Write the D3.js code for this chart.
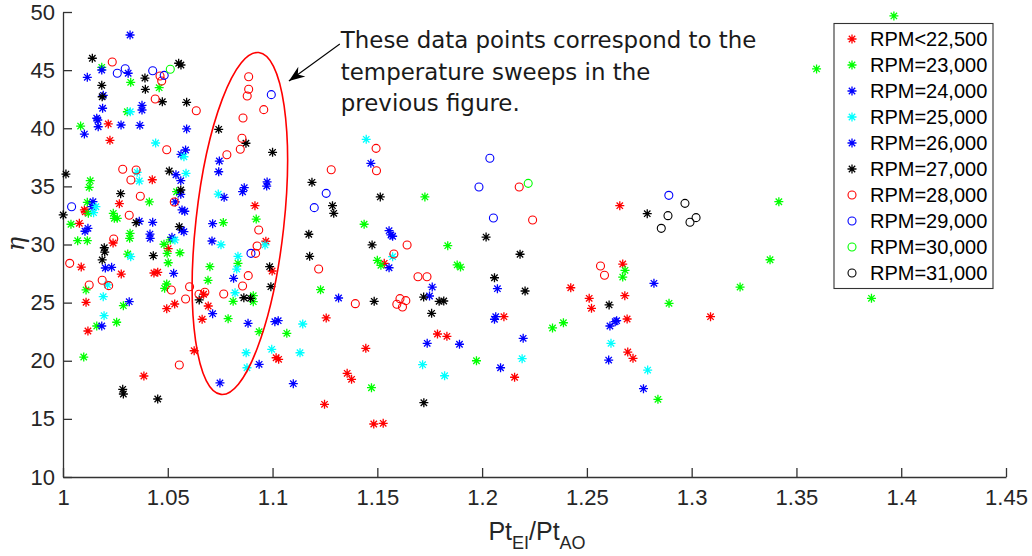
<!DOCTYPE html>
<html><head><meta charset="utf-8">
<script src="https://cdn.jsdelivr.net/npm/d3@7"></script>
<style>
body{margin:0;background:#fff;}
svg{display:block;}
</style></head>
<body><svg id="c" width="1032" height="556"></svg>
<script>
// ---------- data (x = PtEI/PtAO, y = eta) ----------
const rpmBelow22500 = [[1.0216,40.37],[1.0224,38.96],[1.0426,35.57],[1.0269,33.51],[1.0102,32.97],[1.0106,32.82],[1.0078,31.82],[1.0239,30.13],[1.0502,29.64],[1.0087,28.06],[1.0278,27.46],[1.0434,27.55],[1.0452,27.61],[1.011,25.03],[1.0533,24.88],[1.0495,24.48],[1.0119,22.56],[1.0386,18.69],[1.0916,33.34],[1.0968,30.28],[1.0998,27.72],[1.0671,25.72],[1.0693,24.71],[1.0664,23.57],[1.0626,20.86],[1.1017,20.26],[1.1029,20.12],[1.1533,28.38],[1.1256,23.68],[1.1445,21.07],[1.1356,18.92],[1.1377,18.40],[1.1248,16.25],[1.1483,14.56],[1.1528,14.62],[1.1787,22.30],[1.1832,22.10],[1.2104,23.79],[1.2155,18.58],[1.2657,33.34],[1.2671,28.32],[1.2423,26.28],[1.2511,25.37],[1.2522,24.51],[1.2681,25.60],[1.2692,23.59],[1.2695,20.75],[1.2720,20.21],[1.3090,23.79]];
const rpm23000 = [[1.0185,45.24],[1.0323,43.95],[1.0459,43.49],[1.0307,41.42],[1.0084,40.19],[1.013,35.49],[1.0125,34.92],[1.0542,34.54],[1.0412,33.66],[1.0116,33.63],[1.0121,32.68],[1.024,32.68],[1.0245,32.25],[1.0259,32.25],[1.0038,31.74],[1.032,30.96],[1.0318,30.53],[1.007,30.33],[1.0116,30.33],[1.0512,30.39],[1.0482,30.02],[1.0309,29.18],[1.0497,29.24],[1.0558,29.29],[1.0502,28.43],[1.011,26.09],[1.0495,26.60],[1.0485,26.23],[1.0288,24.74],[1.0161,22.99],[1.0256,23.31],[1.0099,20.32],[1.0765,31.89],[1.0922,32.19],[1.0701,28.09],[1.0835,28.38],[1.0692,26.92],[1.0908,25.60],[1.0908,25.08],[1.0812,25.11],[1.0788,23.62],[1.0936,22.50],[1.1068,22.36],[1.1727,34.09],[1.1437,31.74],[1.1836,29.90],[1.15,28.64],[1.1517,28.21],[1.1881,28.24],[1.1897,28.06],[1.1229,26.11],[1.1973,20.00],[1.1472,17.68],[1.2336,22.82],[1.2388,23.27],[1.2682,27.78],[1.2671,27.20],[1.2892,24.94],[1.2839,16.68],[1.3231,26.34],[1.3374,28.69],[1.3416,33.68],[1.3596,45.10],[1.3965,49.66],[1.3858,25.37]];
const rpm24000 = [[1.032,48.02],[1.0185,45.01],[1.0311,44.73],[1.0116,44.38],[1.0192,42.83],[1.0377,41.97],[1.0377,41.57],[1.0189,41.72],[1.0161,40.86],[1.0166,40.71],[1.0168,40.13],[1.0277,40.28],[1.0367,40.25],[1.0102,39.50],[1.059,39.94],[1.0585,38.13],[1.0563,37.76],[1.0539,36.0],[1.0562,35.49],[1.0562,34.32],[1.0536,33.66],[1.0143,33.68],[1.0138,33.25],[1.0568,32.97],[1.0581,32.86],[1.0428,31.91],[1.0364,32.0],[1.0119,31.39],[1.0105,31.14],[1.0566,31.25],[1.0577,31.10],[1.0415,30.90],[1.0416,30.53],[1.052,30.62],[1.0202,27.98],[1.0232,28.04],[1.0528,27.52],[1.0316,25.08],[1.0185,22.99]];
const rpm25000 = [[1.0321,41.42],[1.0442,38.73],[1.0577,37.55],[1.0354,36.21],[1.0364,35.46],[1.0587,36.12],[1.0157,33.25],[1.0146,32.74],[1.0534,30.39],[1.0323,28.95],[1.0213,26.52],[1.0192,25.51],[1.0196,23.88],[1.0741,34.34],[1.0754,29.98],[1.0964,29.96],[1.0835,28.98],[1.0829,27.89],[1.0821,25.85],[1.1144,23.16],[1.0874,20.69],[1.0996,20.98],[1.1131,20.69],[1.0878,19.40],[1.1447,39.05],[1.1573,28.95],[1.1716,19.66],[1.1821,18.71],[1.2191,20.18],[1.2615,21.50],[1.279,19.20]];
const rpm26000 = [[1.0746,37.18],[1.0743,36.26],[1.0865,34.89],[1.0857,34.54],[1.0974,35.38],[1.0972,35.03],[1.0769,34.06],[1.0714,31.79],[1.0711,30.30],[1.0814,27.09],[1.0714,24.05],[1.0883,23.22],[1.1011,23.36],[1.1027,23.45],[1.0936,19.69],[1.0749,18.09],[1.1099,18.03],[1.1469,36.98],[1.1556,31.19],[1.1565,30.82],[1.1573,30.71],[1.1556,28.0],[1.1762,26.34],[1.1749,25.57],[1.2073,26.20],[1.1315,25.40],[1.2065,23.79],[1.2059,23.57],[1.1738,21.50],[1.1892,21.42],[1.2196,21.93],[1.2088,19.40],[1.282,26.66],[1.2642,23.45],[1.2635,23.36],[1.261,22.99],[1.2604,20.06],[1.277,17.60]];
const rpm27000 = [[1.014,46.02],[1.0552,45.59],[1.0563,45.44],[1.0391,44.32],[1.0185,43.69],[1.0393,43.35],[1.0187,42.71],[1.0474,42.28],[1.059,42.23],[1.0014,36.06],[1.0507,36.32],[1.0275,34.37],[1.0562,34.69],[1.0001,32.54],[1.0349,31.88],[1.0555,31.53],[1.0197,29.72],[1.0199,29.35],[1.0187,28.67],[1.0431,29.04],[1.0285,17.54],[1.0288,17.14],[1.0452,16.71],[1.0743,39.91],[1.0873,38.71],[1.1,37.93],[1.0986,28.09],[1.0992,26.37],[1.0863,25.42],[1.0895,25.37],[1.065,25.23],[1.1188,35.35],[1.1514,34.09],[1.1286,33.34],[1.1292,32.68],[1.1173,30.88],[1.1475,29.96],[1.2019,30.64],[1.1177,28.98],[1.2181,29.16],[1.2059,27.14],[1.2205,26.0],[1.1485,25.11],[1.1721,25.48],[1.1795,25.11],[1.1817,25.14],[1.1759,24.08],[1.1722,16.39],[1.2788,32.65],[1.2606,24.80]];
const rpm28000 = [[1.0235,45.70],[1.0463,44.49],[1.0471,44.06],[1.044,42.52],[1.0495,38.15],[1.0285,36.47],[1.0349,36.41],[1.0324,35.55],[1.0369,34.15],[1.0531,33.66],[1.0316,32.51],[1.0242,30.47],[1.0032,28.38],[1.0187,26.92],[1.0218,26.46],[1.0125,26.52],[1.0517,26.09],[1.0604,26.37],[1.0585,25.31],[1.0555,19.63],[1.0886,44.43],[1.0886,43.35],[1.0879,42.77],[1.0636,41.51],[1.0958,41.60],[1.0859,40.88],[1.0854,39.14],[1.0846,38.19],[1.0782,37.72],[1.0934,31.25],[1.0926,29.87],[1.0919,29.24],[1.0884,27.32],[1.0857,26.43],[1.0649,25.72],[1.0677,25.89],[1.0767,25.74],[1.1494,38.27],[1.1496,36.35],[1.128,36.43],[1.2177,34.95],[1.2241,32.11],[1.1642,29.96],[1.1579,29.18],[1.122,27.89],[1.1694,27.23],[1.1737,27.23],[1.1395,24.91],[1.1608,25.34],[1.1636,25.17],[1.1593,24.86],[1.162,24.62],[1.2565,28.15],[1.2584,27.35]];
const rpm29000 = [[1.0297,45.12],[1.0259,44.73],[1.0428,44.95],[1.0483,44.55],[1.0041,33.25],[1.0994,42.89],[1.0897,29.24],[1.2037,37.42],[1.1985,34.95],[1.1256,34.40],[1.1199,33.17],[1.2054,32.28],[1.2891,34.23]];
const rpm30000 = [[1.0512,45.07],[1.222,35.26]];
const rpm31000 = [[1.2968,33.54],[1.2887,32.48],[1.2855,31.39],[1.2992,31.91],[1.3021,32.31]];

const seriesNames = ["RPM<22,500","RPM=23,000","RPM=24,000","RPM=25,000","RPM=26,000","RPM=27,000","RPM=28,000","RPM=29,000","RPM=30,000","RPM=31,000"];
const seriesColors = ["#ff0000","#00ff00","#0000ff","#00ffff","#0000ff","#000000","#ff0000","#0000ff","#00ff00","#000000"];
const seriesMarkers = ["*","*","*","*","*","*","o","o","o","o"];
const seriesData = [rpmBelow22500,rpm23000,rpm24000,rpm25000,rpm26000,rpm27000,rpm28000,rpm29000,rpm30000,rpm31000];

const xTicks = [1,1.05,1.1,1.15,1.2,1.25,1.3,1.35,1.4,1.45];
const yTicks = [10,15,20,25,30,35,40,45,50];

const noteLines = ["These data points correspond to the","temperature sweeps in the","previous figure."];
const noteAnchor = [1.1321,47.25];   // arrow tail / text start (data units)
const noteArrowTip = [1.1078,44.06];
const ellipseCenter = [1.0844,31.81];

// ---------- drawing ----------
const svg = d3.select("#c");
const x = d3.scaleLinear().domain([1,1.45]).range([63,1006]);
const y = d3.scaleLinear().domain([10,50]).range([477,12]);
const axisColor = "#333";
const textColor = "#262626";

const gx = svg.append("g").attr("transform","translate(0,477)")
  .call(d3.axisBottom(x).tickValues(xTicks).tickSizeInner(-9).tickSizeOuter(0).tickPadding(12).tickFormat(d3.format("")));
const gy = svg.append("g").attr("transform","translate(63,0)")
  .call(d3.axisLeft(y).tickValues(yTicks).tickSizeInner(-9).tickSizeOuter(0).tickPadding(8));
[gx,gy].forEach(g=>{
  g.select(".domain").attr("stroke",axisColor).attr("stroke-width",1.3);
  g.selectAll(".tick line").attr("stroke",axisColor).attr("stroke-width",1.3);
  g.selectAll(".tick text").attr("fill",textColor).style("font-family","'Liberation Sans',Arial,sans-serif").style("font-size","22px");
});

// axis labels
const xl = svg.append("text").attr("x",537).attr("y",540).attr("text-anchor","middle")
  .attr("fill",textColor).style("font-family","'Liberation Sans',Arial,sans-serif").style("font-size","25px");
xl.append("tspan").text("Pt");
xl.append("tspan").attr("dy",9).style("font-size","18px").text("EI");
xl.append("tspan").attr("dy",-9).text("/Pt");
xl.append("tspan").attr("dy",9).style("font-size","18px").text("AO");

svg.append("text").attr("transform","translate(24,244) rotate(-90)").attr("text-anchor","middle")
  .attr("fill",textColor).style("font-family","'DejaVu Serif','Liberation Serif',serif").style("font-style","italic").style("font-size","24px").text("η");

function drawMarker(g, type, color){
  if(type==="o"){
    g.append("circle").attr("r",4).attr("fill","none").attr("stroke",color).attr("stroke-width",1.1);
  } else {
    g.append("path").attr("d","M-4.5,0H4.5M0,-4.5V4.5M-3.2,-3.2L3.2,3.2M-3.2,3.2L3.2,-3.2")
      .attr("fill","none").attr("stroke",color).attr("stroke-width",1.3);
  }
}

const plot = svg.append("g");
seriesData.forEach((data,i)=>{
  const gs = plot.append("g");
  data.forEach(d=>{
    const m = gs.append("g").attr("transform",`translate(${x(d[0])},${y(d[1])})`);
    drawMarker(m, seriesMarkers[i], seriesColors[i]);
  });
});

// ellipse annotation
const ec = [x(ellipseCenter[0]), y(ellipseCenter[1])];
svg.append("ellipse").attr("cx",0).attr("cy",0).attr("rx",44).attr("ry",172)
  .attr("transform",`translate(${ec[0]},${ec[1]}) rotate(6.3)`)
  .attr("fill","none").attr("stroke","#ff0000").attr("stroke-width",1.6);

// arrow
const ax0 = x(noteAnchor[0]), ay0 = y(noteAnchor[1]);
const ax1 = x(noteArrowTip[0]), ay1 = y(noteArrowTip[1]);
const ang = Math.atan2(ay1-ay0, ax1-ax0);
svg.append("line").attr("x1",ax0).attr("y1",ay0).attr("x2",ax1).attr("y2",ay1).attr("stroke","#000").attr("stroke-width",1.1);
const hl=16, hw=6, back=11;
const ca=Math.cos(ang), sa=Math.sin(ang);
const P=(l,w)=>[ax1 - l*ca - w*sa, ay1 - l*sa + w*ca];
const p1=P(hl,hw), p2=P(back,0), p3=P(hl,-hw);
svg.append("path").attr("d",`M${ax1},${ay1}L${p1}L${p2}L${p3}Z`).attr("fill","#000");

const note = svg.append("text").attr("fill","#1a1a1a").style("font-family","'DejaVu Sans',sans-serif").style("font-size","22.9px");
noteLines.forEach((t,i)=>note.append("tspan").attr("x",ax0+1).attr("y",ay0+4.5+i*31.5).text(t));

// legend
const lg = svg.append("g");
lg.append("rect").attr("x",834).attr("y",23.5).attr("width",159).attr("height",265)
  .attr("fill","#fff").attr("stroke",axisColor).attr("stroke-width",1.1);
seriesNames.forEach((n,i)=>{
  const yy = 39 + i*26;
  const m = lg.append("g").attr("transform",`translate(852,${yy})`);
  drawMarker(m, seriesMarkers[i], seriesColors[i]);
  lg.append("text").attr("x",870).attr("y",yy+7).attr("fill","#000")
    .style("font-family","'Liberation Sans',Arial,sans-serif").style("font-size","20px").text(n);
});
</script></body></html>
